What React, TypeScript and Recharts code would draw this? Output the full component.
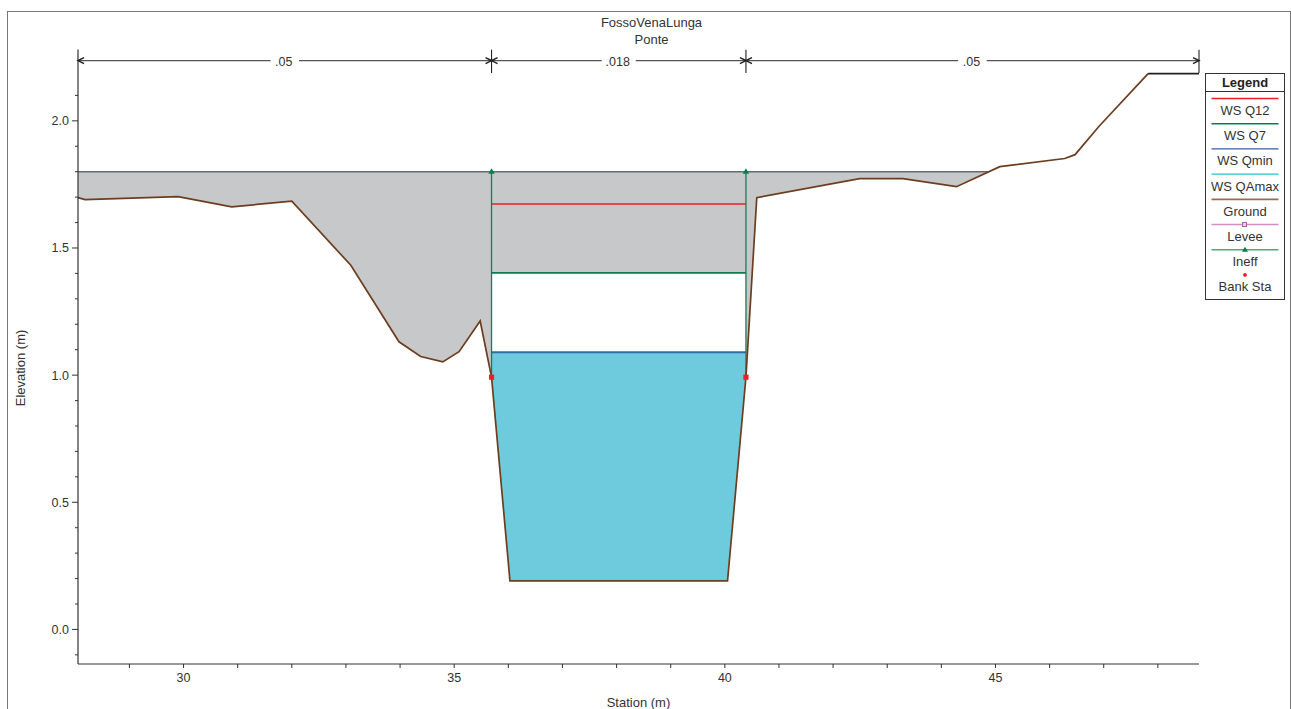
import { ComposedChart, Area, Line, XAxis, YAxis, Label } from "recharts";

const FONT = "'Liberation Sans', Arial, sans-serif";

const groundStations = [28.05, 28.18, 29.9, 30.89, 32.0, 33.09, 33.98, 34.38, 34.79, 35.09, 35.48, 35.69, 36.03, 40.05, 40.39, 40.59, 42.49, 43.29, 44.28, 45.08, 46.28, 46.47, 46.91, 47.82];
const groundElevations = [1.698, 1.69, 1.702, 1.662, 1.684, 1.432, 1.131, 1.073, 1.052, 1.092, 1.213, 0.992, 0.191, 0.191, 0.992, 1.698, 1.773, 1.773, 1.741, 1.82, 1.852, 1.867, 1.978, 2.186];
const groundEnd = [47.82, 48.76];
const groundEndElevation = 2.186;

const leftBank = 35.69;
const rightBank = 40.39;
const wsQ12 = 1.673;
const wsQ7 = 1.402;
const wsQmin = 1.09;
const wsQAmax = 1.8;
const wsQAmaxEnd = 44.86;
const bankElevation = 0.992;

const xTicks = [29, 30, 31, 32, 33, 34, 35, 36, 37, 38, 39, 40, 41, 42, 43, 44, 45, 46, 47, 48];
const xLabelled = [30, 35, 40, 45];
const yTicks = [-0.1, 0, 0.1, 0.2, 0.3, 0.4, 0.5, 0.6, 0.7, 0.8, 0.9, 1, 1.1, 1.2, 1.3, 1.4, 1.5, 1.6, 1.7, 1.8, 1.9, 2, 2.1];
const yLabelled = [0, 0.5, 1, 1.5, 2];

const nStations = [28.05, 35.69, 40.39, 48.76];
const nValues = [".05", ".018", ".05"];
const nElevation = 2.237;
const nTickTop = 2.28;
const nTickBottom = 2.188;

const legendNames = ["WS Q12", "WS Q7", "WS Qmin", "WS QAmax", "Ground", "Levee", "Ineff", "Bank Sta"];
const legendColors = ["#ee1c25", "#00804f", "#3a5ba8", "#1fc4cc", "#9c6b4c", "#d090c4", "#4fa97c", ""];

const groundRows = groundStations.map((station, i) => ({ station, elevation: groundElevations[i] }));

const between = (from: number, to: number) =>
  groundRows.filter((r) => r.station >= from && r.station <= to);

const grayLeft = between(0, leftBank).map((r) => ({ station: r.station, range: [r.elevation, wsQAmax] }));
const grayMiddle = [leftBank, rightBank].map((station) => ({ station, range: [wsQ7, wsQAmax] }));
const grayRight = [
  ...between(rightBank, 44.5).map((r) => ({ station: r.station, range: [r.elevation, wsQAmax] })),
  { station: wsQAmaxEnd, range: [wsQAmax, wsQAmax] },
];
const blue = between(leftBank, rightBank).map((r) => ({ station: r.station, range: [r.elevation, wsQmin] }));

const flat = (from: number, to: number, elevation: number) => [
  { station: from, elevation },
  { station: to, elevation },
];

function XTick({ x, y, payload }: any) {
  const major = xLabelled.includes(payload.value);
  return (
    <g>
      <line x1={x} x2={x} y1={y} y2={y + 4} stroke="#333" strokeWidth={1} />
      {major && (
        <text x={x} y={y + 18} textAnchor="middle" fontSize={12.5} fontFamily={FONT} fill="#333">
          {payload.value}
        </text>
      )}
    </g>
  );
}

function YTick({ x, y, payload }: any) {
  const major = yLabelled.includes(payload.value);
  return (
    <g>
      <line x1={x - (major ? 6 : 3)} x2={x} y1={y} y2={y} stroke="#333" strokeWidth={1} />
      {major && (
        <text x={x - 9} y={y + 4.5} textAnchor="end" fontSize={12.5} fontFamily={FONT} fill="#333">
          {payload.value.toFixed(1)}
        </text>
      )}
    </g>
  );
}

function arrowDot(props: any) {
  const { cx, cy, index, key } = props;
  const dir = index === 0 ? 1 : -1;
  return (
    <path
      key={key ?? index}
      d={`M${cx + dir * 6},${cy - 3} L${cx},${cy} L${cx + dir * 6},${cy + 3}`}
      fill="none"
      stroke="#222"
      strokeWidth={1.5}
    />
  );
}

function triangleDot(props: any) {
  const { cx, cy, index, key } = props;
  if (index !== 1) return <g key={key ?? index} />;
  return <path key={key ?? index} d={`M${cx},${cy - 3.5} L${cx + 3.2},${cy + 2} L${cx - 3.2},${cy + 2} Z`} fill="#00804f" />;
}

function bankDot(props: any) {
  const { cx, cy, index, key } = props;
  if (index !== 0) return <g key={key ?? index} />;
  return <rect key={key ?? index} x={cx - 2.6} y={cy - 2.6} width={5.2} height={5.2} fill="#ee1c25" />;
}

function nLabelDot(text: string) {
  return (props: any) => {
    const { cx, cy, key } = props;
    const w = text.length * 5.5 + 12;
    return (
      <g key={key ?? text}>
        <rect x={cx - w / 2} y={cy - 7} width={w} height={14} fill="#fff" />
        <text x={cx - 1} y={cy + 5} textAnchor="middle" fontSize={12.5} fontFamily={FONT} fill="#333">
          {text}
        </text>
      </g>
    );
  };
}

function ElevationLabel() {
  return (
    <text
      x={25}
      y={368}
      transform="rotate(-90 25 368)"
      textAnchor="middle"
      fontSize={13}
      fontFamily={FONT}
      fill="#333"
    >
      Elevation (m)
    </text>
  );
}

function ChartLegend() {
  return (
    <svg width={81} height={228} style={{ position: "absolute", left: 1205, top: 73 }}>
      <rect x={0.5} y={0.5} width={79} height={226} fill="#fff" stroke="#333" />
      <line x1={0} x2={80} y1={18.5} y2={18.5} stroke="#333" />
      <text x={40} y={14} textAnchor="middle" fontSize={13} fontWeight="bold" fontFamily={FONT} fill="#222">
        Legend
      </text>
      {legendNames.map((name, i) => {
        const lineY = 25.5 + i * 25.2;
        return (
          <g key={name}>
            {legendColors[i] && (
              <line x1={6.5} x2={73.5} y1={lineY} y2={lineY} stroke={legendColors[i]} strokeWidth={name === "Ground" ? 1.8 : 1.4} />
            )}
            {name === "Levee" && <rect x={37.5} y={lineY - 2} width={4} height={4} fill="#e8cfe4" stroke="#a860a0" />}
            {name === "Ineff" && <path d={`M40,${lineY - 3} L43,${lineY + 2} L37,${lineY + 2} Z`} fill="#00804f" />}
            {name === "Bank Sta" && <circle cx={40} cy={lineY} r={1.9} fill="#ee1c25" />}
            <text x={40} y={lineY + 16.5} textAnchor="middle" fontSize={13} fontFamily={FONT} fill="#333">
              {name}
            </text>
          </g>
        );
      })}
    </svg>
  );
}

export default function App() {
  return (
    <div style={{ position: "absolute", left: 0, top: 0, width: 1291, height: 709, overflow: "hidden", background: "#fff" }}>
      <div style={{ position: "absolute", left: 7, top: 11, width: 1282, height: 700, border: "1px solid #777", borderBottom: "none" }} />
      <div style={{ position: "absolute", left: 0, width: 1303, top: 14, textAlign: "center", fontFamily: FONT, fontSize: 13, lineHeight: "17px", color: "#333" }}>
        FossoVenaLunga
        <br />
        Ponte
      </div>
      <ComposedChart width={1291} height={709} margin={{ top: 49.5, right: 92, bottom: 5, left: 18 }}>
        <XAxis
          type="number"
          dataKey="station"
          domain={[28.05, 48.76]}
          ticks={xTicks}
          interval={0}
          height={40}
          tickLine={false}
          tickSize={0}
          tickMargin={0}
          tick={XTick}
          axisLine={{ stroke: "#333", strokeWidth: 1.2 }}
        >
          <Label value="Station (m)" position="insideBottom" offset={-3} fontSize={13} fontFamily={FONT} fill="#333" />
        </XAxis>
        <YAxis
          type="number"
          dataKey="elevation"
          domain={[-0.136, 2.2806]}
          ticks={yTicks}
          interval={0}
          width={60}
          tickLine={false}
          tickSize={0}
          tickMargin={0}
          tick={YTick}
          axisLine={{ stroke: "#333", strokeWidth: 1.2 }}
        >
          <Label content={ElevationLabel} />
        </YAxis>

        <Area data={grayLeft} dataKey="range" type="linear" fill="#c6c8ca" fillOpacity={1} stroke="none" dot={false} activeDot={false} isAnimationActive={false} />
        <Area data={grayMiddle} dataKey="range" type="linear" fill="#c6c8ca" fillOpacity={1} stroke="none" dot={false} activeDot={false} isAnimationActive={false} />
        <Area data={grayRight} dataKey="range" type="linear" fill="#c6c8ca" fillOpacity={1} stroke="none" dot={false} activeDot={false} isAnimationActive={false} />
        <Area data={blue} dataKey="range" type="linear" fill="#6ecbdd" fillOpacity={1} stroke="none" dot={false} activeDot={false} isAnimationActive={false} />

        <Line data={flat(28.05, wsQAmaxEnd, wsQAmax)} dataKey="elevation" stroke="#6a6a6a" strokeWidth={1.4} dot={false} isAnimationActive={false} />
        <Line data={flat(leftBank, rightBank, wsQ12)} dataKey="elevation" stroke="#ee1c25" strokeWidth={1.4} dot={false} isAnimationActive={false} />
        <Line data={flat(leftBank, rightBank, wsQ7)} dataKey="elevation" stroke="#0f7a50" strokeWidth={1.6} dot={false} isAnimationActive={false} />
        <Line data={flat(leftBank, rightBank, wsQmin)} dataKey="elevation" stroke="#2f6ba8" strokeWidth={1.8} dot={false} isAnimationActive={false} />

        {[leftBank, rightBank].map((station) => (
          <Line
            key={station}
            data={[{ station, elevation: bankElevation }, { station, elevation: wsQAmax }]}
            dataKey="elevation"
            stroke="#1b7a55"
            strokeWidth={1.3}
            dot={triangleDot}
            isAnimationActive={false}
          />
        ))}

        <Line data={groundRows} dataKey="elevation" stroke="#6d3d1f" strokeWidth={1.7} dot={false} isAnimationActive={false} />
        <Line data={groundEnd.map((station) => ({ station, elevation: groundEndElevation }))} dataKey="elevation" stroke="#222" strokeWidth={1.8} dot={false} isAnimationActive={false} />

        {[leftBank, rightBank].map((station) => (
          <Line
            key={`bank-${station}`}
            data={[{ station, elevation: bankElevation }]}
            dataKey="elevation"
            stroke="none"
            dot={bankDot}
            isAnimationActive={false}
          />
        ))}

        {nValues.map((_, i) => (
          <Line
            key={`span-${i}`}
            data={flat(nStations[i], nStations[i + 1], nElevation)}
            dataKey="elevation"
            stroke="#555"
            strokeWidth={1.2}
            dot={arrowDot}
            isAnimationActive={false}
          />
        ))}
        {nStations.slice(1).map((station) => (
          <Line
            key={`tick-${station}`}
            data={[{ station, elevation: nTickTop }, { station, elevation: nTickBottom }]}
            dataKey="elevation"
            stroke="#222"
            strokeWidth={1.1}
            dot={false}
            isAnimationActive={false}
          />
        ))}
        {nValues.map((text, i) => (
          <Line
            key={`value-${i}`}
            data={[{ station: (nStations[i] + nStations[i + 1]) / 2, elevation: nElevation }]}
            dataKey="elevation"
            stroke="none"
            dot={nLabelDot(text)}
            isAnimationActive={false}
          />
        ))}
      </ComposedChart>
      <ChartLegend />
    </div>
  );
}
